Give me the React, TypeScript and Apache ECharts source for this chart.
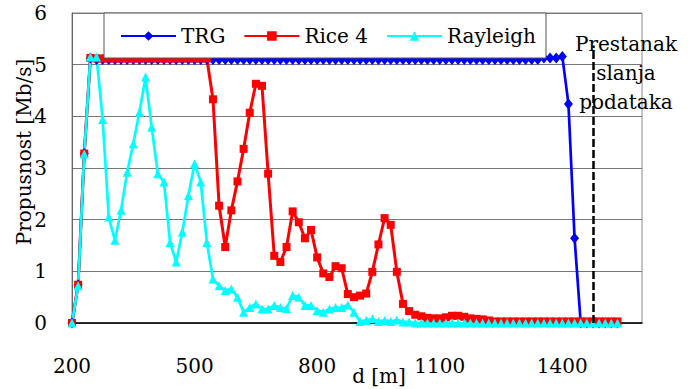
import React, { useEffect, useRef } from 'react';
import * as echarts from 'echarts';

// distance grid (m), one category every 15 m from 200 m
const distances: string[] = Array.from({ length: 94 }, (_, i) => String(200 + 15 * i));
const xTickLabels = ['200', '500', '800', '1100', '1400'];

const trg = [
  0, 0.74, 3.28, 5.13,
  5.1, 5.1, 5.1, 5.1, 5.1, 5.1, 5.1, 5.1, 5.1, 5.1,
  5.1, 5.1, 5.1, 5.1, 5.1, 5.1, 5.1, 5.1, 5.1, 5.1,
  5.1, 5.1, 5.1, 5.1, 5.1, 5.1, 5.1, 5.1, 5.1, 5.1,
  5.1, 5.1, 5.1, 5.1, 5.1, 5.1, 5.1, 5.1, 5.1, 5.1,
  5.1, 5.1, 5.1, 5.1, 5.1, 5.1, 5.1, 5.1, 5.1, 5.1,
  5.1, 5.1, 5.1, 5.1, 5.1, 5.1, 5.1, 5.1, 5.1, 5.1,
  5.1, 5.1, 5.1, 5.1, 5.1, 5.1, 5.1, 5.1, 5.1, 5.1,
  5.1, 5.1, 5.1,
  5.13, 5.13, 5.13, 5.16, 4.24, 1.64,
  0, 0, 0, 0, 0, 0, 0,
];

const rice4 = [
  0, 0.74, 3.28, 5.13,
  5.12, 5.12, 5.12, 5.12, 5.12, 5.12, 5.12, 5.12, 5.12, 5.12,
  5.12, 5.12, 5.12, 5.12, 5.12, 5.12, 5.12, 5.12, 5.12,
  4.33, 2.27, 1.47, 2.18, 2.74, 3.37, 4.07, 4.63, 4.59, 2.89,
  1.3, 1.18, 1.47, 2.16, 1.95, 1.64, 1.8, 1.27, 0.96, 0.89,
  1.1, 1.06, 0.56, 0.5, 0.53, 0.57, 0.99, 1.52, 2.03, 1.9,
  0.99, 0.37, 0.23, 0.16, 0.13, 0.1, 0.09, 0.09, 0.11, 0.14,
  0.14, 0.12, 0.09, 0.08, 0.07, 0.05,
  0.03, 0.03, 0.03, 0.03, 0.03, 0.03, 0.03, 0.03, 0.03, 0.03,
  0.03, 0.03, 0.03, 0.03, 0.03, 0.03, 0.03, 0.03, 0.03, 0.03, 0.03,
];

const rayleigh = [
  0, 0.72, 3.27, 5.15, 5.15, 3.94, 2.05, 1.6, 2.18, 2.92,
  3.47, 4.08, 4.76, 3.79, 2.89, 2.73, 1.56, 1.18, 1.76, 2.47,
  3.08, 2.73, 1.56, 0.85, 0.72, 0.63, 0.66, 0.5, 0.21, 0.3,
  0.37, 0.27, 0.27, 0.34, 0.3, 0.28, 0.53, 0.5, 0.34, 0.34,
  0.24, 0.21, 0.27, 0.3, 0.3, 0.35, 0.21, 0.03, 0.05, 0.08,
  0.03, 0.05, 0.03, 0.06, 0.02, 0.02,
  0, 0, 0, 0, 0, 0, 0, 0, 0, 0,
  0, 0, 0, 0, 0, 0, 0, 0, 0, 0,
  0, 0, 0, 0, 0, 0, 0, 0, 0, 0,
  0, 0, 0, 0,
];

const stopDistance = '1475';
const stopTop = 5.37;
const stopText = 'Prestanak\nslanja\npodataka';

export default function App() {
  const ref = useRef<HTMLDivElement>(null);
  useEffect(() => {
    const chart = echarts.init(ref.current as HTMLDivElement, null, { renderer: 'svg' });
    const font = 'DejaVu Serif';
    const fs = 20;
    chart.setOption({
      animation: false,
      backgroundColor: '#ffffff',
      textStyle: { fontFamily: font },
      grid: {
        left: 72, right: 50, top: 13, bottom: 66,
        show: true, borderColor: '#888', borderWidth: 1,
      },
      legend: {
        left: 104, top: 13,
        padding: [13, 10, 12, 16],
        itemWidth: 55, itemHeight: 12, itemGap: 18,
        borderColor: '#555', borderWidth: 1, backgroundColor: '#ffffff',
        textStyle: { fontSize: fs, color: '#000', fontFamily: font },
        z: 10,
        data: ['TRG', 'Rice 4', 'Rayleigh'],
      },
      xAxis: {
        type: 'category',
        data: distances,
        boundaryGap: false,
        axisLine: { lineStyle: { color: '#000', width: 1.5 } },
        axisTick: { show: false },
        axisLabel: {
          interval: (_i: number, v: string) => xTickLabels.includes(v),
          fontSize: fs, color: '#000', margin: 33, fontFamily: font,
        },
        splitLine: { show: false },
      },
      yAxis: {
        type: 'value', min: 0, max: 6, interval: 1,
        axisLine: { show: true, lineStyle: { color: '#666', width: 1 } },
        axisTick: { show: false },
        axisLabel: { fontSize: fs, color: '#000', margin: 25, fontFamily: font },
        splitLine: { lineStyle: { color: '#777', width: 1 } },
      },
      series: [
        {
          name: 'TRG', type: 'line', data: trg,
          symbol: 'diamond', symbolSize: [9, 11], showAllSymbol: true,
          itemStyle: { color: '#0000ff' },
          lineStyle: { width: 2.7, color: '#0000ff' },
        },
        {
          name: 'Rice 4', type: 'line', data: rice4,
          symbol: 'rect', symbolSize: 8, showAllSymbol: true,
          itemStyle: { color: '#ff0000' },
          lineStyle: { width: 3, color: '#ff0000' },
        },
        {
          name: 'Rayleigh', type: 'line', data: rayleigh,
          symbol: 'triangle', symbolSize: 9, showAllSymbol: true,
          itemStyle: { color: '#00ffff' },
          lineStyle: { width: 2.7, color: '#00ffff' },
          markLine: {
            silent: true,
            symbol: ['none', 'none'],
            label: { show: false },
            lineStyle: { color: '#000', width: 2.5, type: [8, 3] },
            data: [[{ coord: [stopDistance, 0] }, { coord: [stopDistance, stopTop] }]],
          },
        },
      ],
      graphic: [
        {
          type: 'text', x: 24, y: 152, rotation: Math.PI / 2,
          style: {
            text: 'Propusnost [Mb/s]', fontSize: fs, fontFamily: font, fill: '#000',
            textAlign: 'center', textVerticalAlign: 'middle',
          },
        },
        {
          type: 'text', x: 379, y: 376,
          style: {
            text: 'd [m]', fontSize: fs, fontFamily: font, fill: '#000',
            textAlign: 'center', textVerticalAlign: 'middle',
          },
        },
        {
          type: 'text', x: 626, y: 29,
          style: {
            text: stopText, fontSize: fs, lineHeight: 29, fontFamily: font, fill: '#000',
            textAlign: 'center', textVerticalAlign: 'top',
          },
        },
      ],
    });
    return () => chart.dispose();
  }, []);
  return (
    <div
      ref={ref}
      style={{ position: 'fixed', left: 0, top: 0, width: 692, height: 389, background: '#fff' }}
    />
  );
}
